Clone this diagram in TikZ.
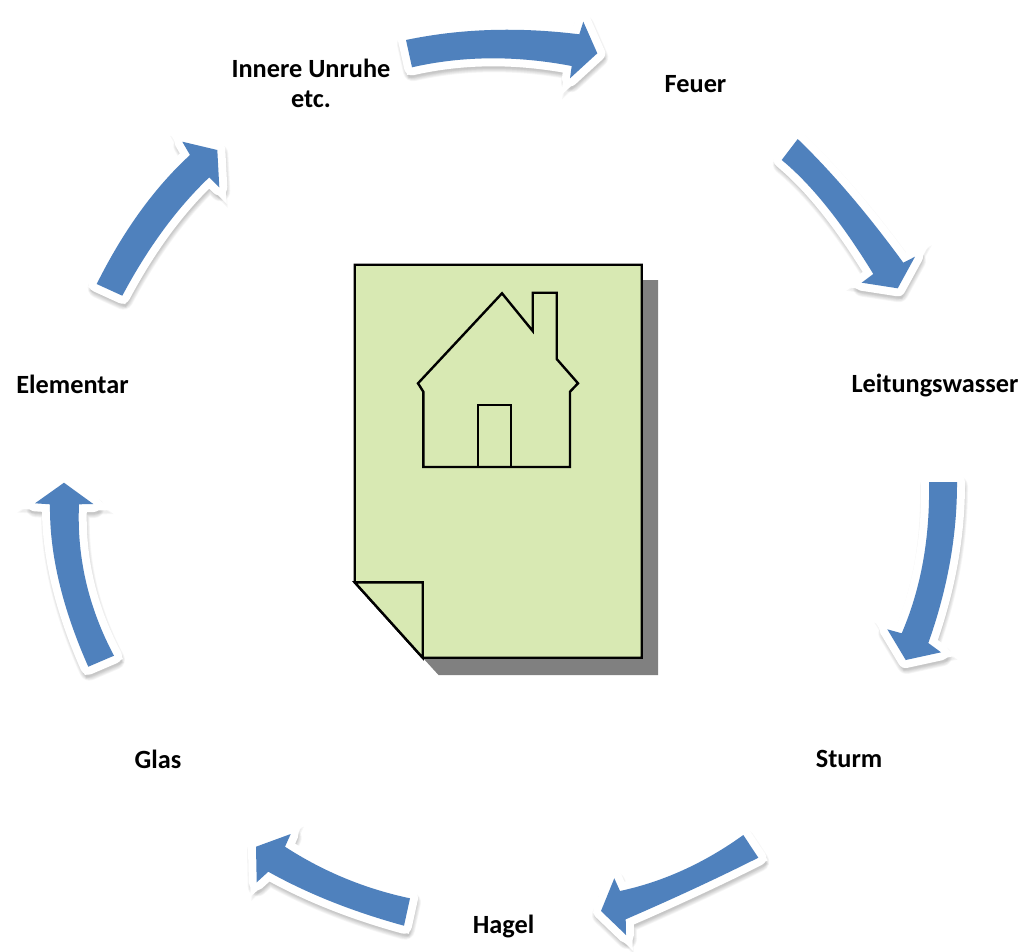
\documentclass[tikz,border=0pt]{standalone}
\usepackage{fontspec}
\usetikzlibrary{calc}
\setmainfont{Carlito}
\newcommand{\blockarrow}[9]{%
  \def\arrowoutline{#1 .. controls ($#1!.6667!#2$) and ($#3!.6667!#2$) .. #3 -- #4 -- #5 -- #6 -- #7 .. controls ($#7!.6667!#8$) and ($#9!.6667!#8$) .. #9 -- cycle}%
  \foreach \w/\dy in {20/4,18.5/4,17/4,15.5/4,14/4}{%
    \draw[softshadow,line width=\w pt] [shift={(1,\dy)}] \arrowoutline;}
  \draw[softshadow,line join=miter,miter limit=6,line width=13pt] [shift={(1,4)}] \arrowoutline;
  \draw[softshadow,line join=miter,miter limit=6,line width=11pt] [shift={(1,4)}] \arrowoutline;
  \draw[arrowhalo] \arrowoutline;
  \draw[arrowspike] \arrowoutline;
  \fill[arrowbody] \arrowoutline;
}
\tikzset{
  softshadow/.style={draw=black,fill=black,draw opacity=.035,fill opacity=.035,line join=round},
  arrowhalo/.style={draw=white,fill=white,line width=16pt,line join=round},
  arrowspike/.style={draw=white,line width=13pt,line join=miter,miter limit=6},
  arrowbody/.style={fill=arrowblue},
  pagefill/.style={draw=black,line width=2.4pt,fill=pagegreen,line join=miter},
  houseline/.style={draw=black,line width=2.4pt,line join=miter},
  label/.style={font=\fontsize{26.3}{30}\selectfont\bfseries,align=center,text=black,inner sep=0pt}
}
\definecolor{arrowblue}{HTML}{4F81BD}
\definecolor{pagegreen}{HTML}{D8E9B3}
\definecolor{pageshadow}{HTML}{808080}
\begin{document}
\begin{tikzpicture}[x=1pt,y=-1pt]
\useasboundingbox (0,0) rectangle (1024,951);
% arrows, clockwise from the top
\blockarrow{(406,40)}{(487.3,22.9)}{(579.3,34.3)}{(583.3,21.7)}{(597.3,53.3)}{(570,78.3)}{(571.7,66)}{(488,50)}{(412,67.3)}
\blockarrow{(797.7,139)}{(849.5,189)}{(903.3,262.7)}{(915,256.7)}{(897.7,288.3)}{(861.7,282.7)}{(873.3,274)}{(825.9,196.4)}{(781.7,160)}
\blockarrow{(957,482)}{(957.3,561.5)}{(928.3,643)}{(941,652.3)}{(905.7,660)}{(887.3,629.3)}{(901.7,633.3)}{(930.6,566)}{(929,482)}
\blockarrow{(743.3,835)}{(685,877)}{(620,891)}{(614.3,878.3)}{(601,911)}{(626,935)}{(625.7,919.3)}{(698,888)}{(758.3,857.7)}
\blockarrow{(410,898.3)}{(342.5,884)}{(285,846.7)}{(290.7,834)}{(256,846.7)}{(256.7,882.3)}{(268.3,871.7)}{(327.3,904.7)}{(404,925.7)}
\blockarrow{(114,655.7)}{(75.5,583.4)}{(79,504.3)}{(93.3,504)}{(64,482.7)}{(35,503.3)}{(50,504.3)}{(48.9,577.9)}{(88.3,666.7)}
\blockarrow{(96.7,284)}{(136.7,203.9)}{(190,155)}{(182.3,141.7)}{(217.3,150)}{(219.3,187.3)}{(209.3,177.3)}{(160.8,223.5)}{(122.3,295.7)}
% page
\fill[pageshadow] (641.7,280) -- (658,280) -- (658,675) -- (438.5,675) -- (422.7,657.7) -- cycle;
\draw[pagefill] (354.7,582.3) -- (354.7,264.7) -- (641.7,264.7) -- (641.7,657.7) -- (422.7,657.7) -- cycle;
\draw[pagefill] (354.7,582.3) -- (422.7,582.3) -- (422.7,657.7) -- cycle;
% house
\draw[houseline] (502,293.3) -- (532.7,331) -- (532.7,292.7) -- (556.7,292.7) -- (556.7,359) -- (578,383.3) -- (570,391.7) -- (570,467) -- (423.3,467) -- (423.3,391.7) -- (418,383.3) -- cycle;
\draw[houseline] (478,467) rectangle (510.7,405);
% labels
\node[label] (unruhe) at (311,83.5) {Innere Unruhe\\etc.};
\node[label] (feuer) at (695.5,84) {Feuer};
\node[label] (wasser) at (935,385) {Leitungswasser};
\node[label] (sturm) at (849,759) {Sturm};
\node[label] (hagel) at (503.5,926) {Hagel};
\node[label] (glas) at (158,759) {Glas};
\node[label] (elementar) at (72.5,384) {Elementar};
\end{tikzpicture}
\end{document}
